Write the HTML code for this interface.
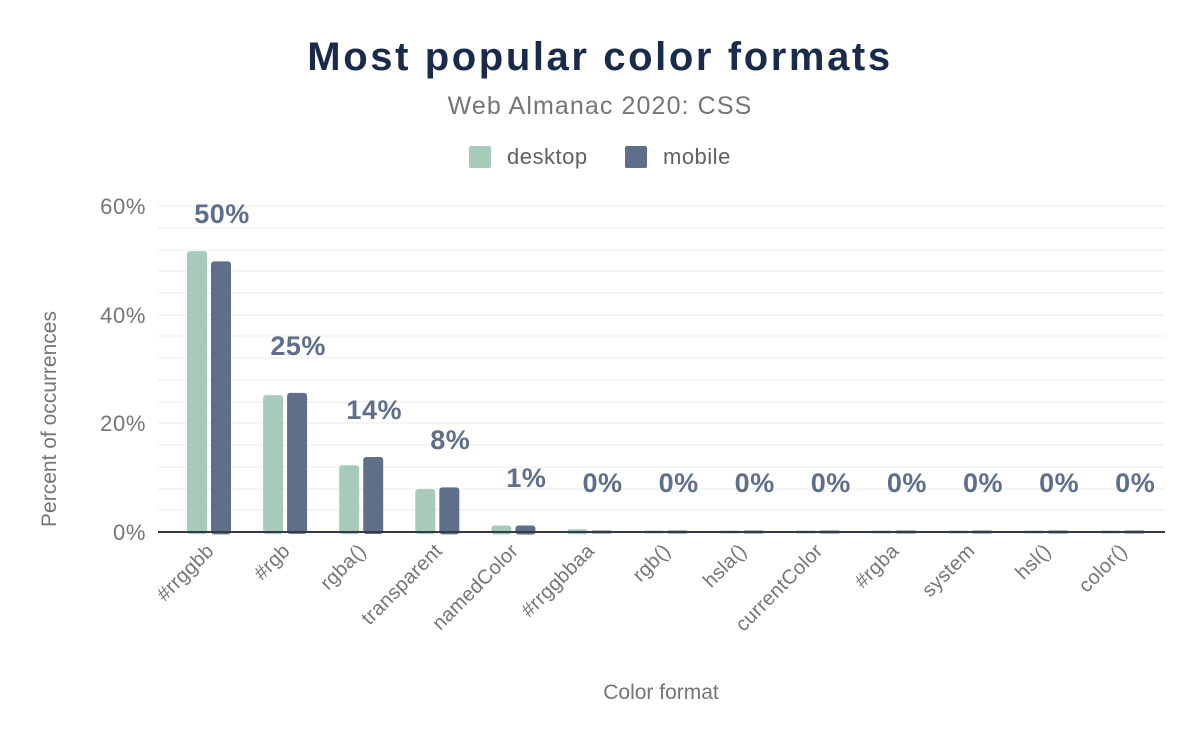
<!DOCTYPE html>
<html><head><meta charset="utf-8"><style>body{margin:0;background:#fff}svg{display:block}</style></head><body>
<svg width="1200" height="742" xmlns="http://www.w3.org/2000/svg" font-family="Liberation Sans, sans-serif">
<rect width="1200" height="742" fill="#fff"/>
<text x="600" y="70" text-anchor="middle" font-size="40" font-weight="bold" letter-spacing="2.6" fill="#1a2b49">Most popular color formats</text>
<text x="600" y="114" text-anchor="middle" font-size="25" letter-spacing="1.1" fill="#757575">Web Almanac 2020: CSS</text>
<rect x="469" y="146" width="22" height="22" rx="2" fill="#a8cabb"/>
<text x="507" y="164" font-size="22" letter-spacing="0.5" fill="#606060">desktop</text>
<rect x="625" y="146" width="22" height="22" rx="2" fill="#5f6f8a"/>
<text x="663" y="164" font-size="22" letter-spacing="0.5" fill="#606060">mobile</text>
<g stroke="#f2f2f2" stroke-width="1.5">
<line x1="158" x2="1165" y1="206" y2="206"/><line x1="158" x2="1165" y1="228" y2="228"/><line x1="158" x2="1165" y1="250" y2="250"/><line x1="158" x2="1165" y1="271" y2="271"/><line x1="158" x2="1165" y1="293" y2="293"/><line x1="158" x2="1165" y1="315" y2="315"/><line x1="158" x2="1165" y1="336" y2="336"/><line x1="158" x2="1165" y1="358" y2="358"/><line x1="158" x2="1165" y1="380" y2="380"/><line x1="158" x2="1165" y1="402" y2="402"/><line x1="158" x2="1165" y1="423" y2="423"/><line x1="158" x2="1165" y1="445" y2="445"/><line x1="158" x2="1165" y1="467" y2="467"/><line x1="158" x2="1165" y1="489" y2="489"/><line x1="158" x2="1165" y1="510" y2="510"/>
</g>
<g font-size="22" fill="#757575" text-anchor="end" letter-spacing="0.6">
<text x="146" y="214">60%</text><text x="146" y="323">40%</text><text x="146" y="431">20%</text><text x="146" y="540">0%</text>
</g>
<text transform="translate(56,419) rotate(-90)" text-anchor="middle" font-size="21" fill="#757575">Percent of occurrences</text>
<g fill="#a8cabb">
<rect x="187" y="251.1" width="20" height="283" rx="3"/>
<rect x="263.1" y="395.1" width="20" height="139" rx="3"/>
<rect x="339.2" y="465.2" width="20" height="69" rx="3"/>
<rect x="415.3" y="489.1" width="20" height="45" rx="3"/>
<rect x="491.4" y="525.5" width="20" height="9" rx="3"/>
<rect x="567.5" y="529.3" width="20" height="5" rx="2"/>
<rect x="643.6" y="530.5" width="20" height="3" rx="1"/>
<rect x="719.7" y="530.5" width="20" height="3" rx="1"/>
<rect x="795.8" y="530.5" width="20" height="3" rx="1"/>
<rect x="871.9" y="530.5" width="20" height="3" rx="1"/>
<rect x="948" y="530.5" width="20" height="3" rx="1"/>
<rect x="1024.1" y="530.5" width="20" height="3" rx="1"/>
<rect x="1100.2" y="530.5" width="20" height="3" rx="1"/>
</g>
<g fill="#5f6f8a">
<rect x="211" y="261.4" width="20" height="273" rx="3"/>
<rect x="287.1" y="392.9" width="20" height="141" rx="3"/>
<rect x="363.2" y="457" width="20" height="77" rx="3"/>
<rect x="439.3" y="487.4" width="20" height="47" rx="3"/>
<rect x="515.4" y="525.5" width="20" height="9" rx="3"/>
<rect x="591.5" y="530.5" width="20" height="3" rx="1"/>
<rect x="667.6" y="530.5" width="20" height="3" rx="1"/>
<rect x="743.7" y="530.5" width="20" height="3" rx="1"/>
<rect x="819.8" y="530.5" width="20" height="3" rx="1"/>
<rect x="895.9" y="530.5" width="20" height="3" rx="1"/>
<rect x="972" y="530.5" width="20" height="3" rx="1"/>
<rect x="1048.1" y="530.5" width="20" height="3" rx="1"/>
<rect x="1124.2" y="530.5" width="20" height="3" rx="1"/>
</g>
<line x1="158" x2="1165" y1="532" y2="532" stroke="#333a45" stroke-width="2"/>
<g font-size="27" font-weight="bold" fill="#5f6f8a" text-anchor="middle" letter-spacing="0.5">
<text x="222" y="223">50%</text>
<text x="298.1" y="355">25%</text>
<text x="374.2" y="419">14%</text>
<text x="450.3" y="449">8%</text>
<text x="526.4" y="487">1%</text>
<text x="602.5" y="492">0%</text>
<text x="678.6" y="492">0%</text>
<text x="754.7" y="492">0%</text>
<text x="830.8" y="492">0%</text>
<text x="906.9" y="492">0%</text>
<text x="983" y="492">0%</text>
<text x="1059.1" y="492">0%</text>
<text x="1135.2" y="492">0%</text>
</g>
<g font-size="20" fill="#757575" text-anchor="end" letter-spacing="0.3">
<text transform="translate(215,552) rotate(-45)">#rrggbb</text>
<text transform="translate(291.1,552) rotate(-45)">#rgb</text>
<text transform="translate(367.2,552) rotate(-45)">rgba()</text>
<text transform="translate(443.3,552) rotate(-45)">transparent</text>
<text transform="translate(519.4,552) rotate(-45)">namedColor</text>
<text transform="translate(595.5,552) rotate(-45)">#rrggbbaa</text>
<text transform="translate(671.6,552) rotate(-45)">rgb()</text>
<text transform="translate(747.7,552) rotate(-45)">hsla()</text>
<text transform="translate(823.8,552) rotate(-45)">currentColor</text>
<text transform="translate(899.9,552) rotate(-45)">#rgba</text>
<text transform="translate(976,552) rotate(-45)">system</text>
<text transform="translate(1052.1,552) rotate(-45)">hsl()</text>
<text transform="translate(1128.2,552) rotate(-45)">color()</text>
</g>
<text x="661" y="699" text-anchor="middle" font-size="21" fill="#757575">Color format</text>
</svg>
</body></html>
